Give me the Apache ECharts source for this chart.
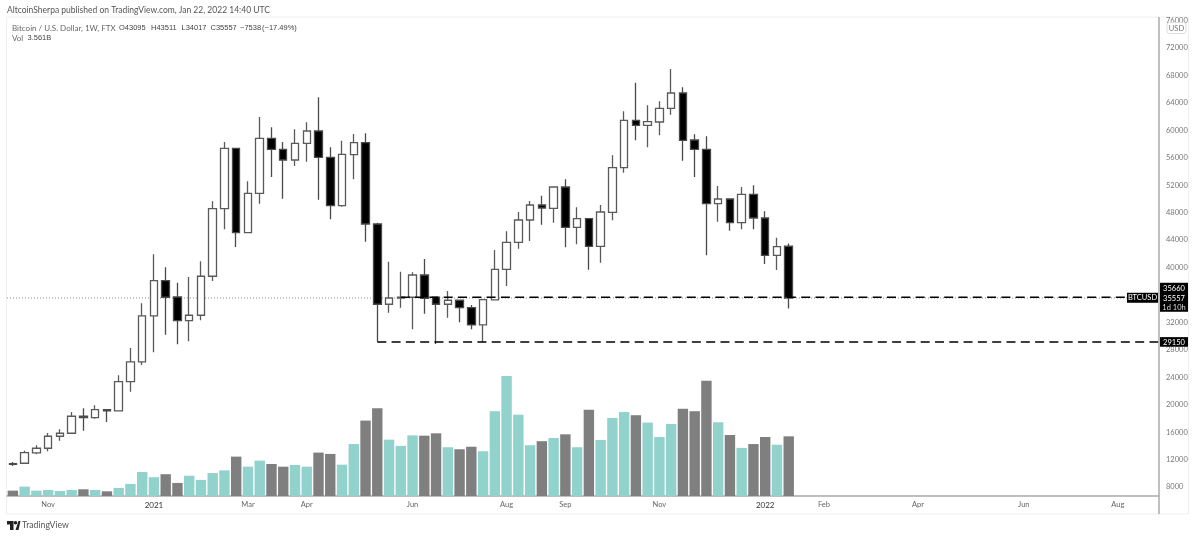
<!DOCTYPE html>
<html><head><meta charset="utf-8">
<style>html,body{margin:0;padding:0;background:#fff}#c{width:1200px;height:537px}</style>
<script src="https://cdn.jsdelivr.net/npm/echarts@6/dist/echarts.min.js"></script>
</head><body><div id="c"></div>
<script>
const candleOpen=[11418,11462,12963,13648,15397,15835,18313,18109,19275,19085,23357,26228,32934,38079,35700,32248,33036,38721,48575,57379,45076,50820,58837,57233,55674,58108,59901,56067,49012,56446,58196,46344,34639,35557,35660,38910,35660,34639,35222,34144,31622,35266,39741,43677,46928,49114,48633,51738,45863,47117,43094,48050,54551,61461,60732,61213,63210,65440,58589,57233,49304,49989,46534,50674,47219,41782,43095];
const candleClose=[11301,13007,13648,15397,15835,18313,18109,19275,19085,23357,26228,32934,38079,35660,32248,33036,38721,48575,57379,45076,50820,58837,57233,55674,58108,59901,56067,49012,56505,58196,46344,34639,35557,35660,38910,35514,34639,35222,34144,31622,35310,39741,43677,46928,49114,48677,51738,45863,47117,43094,48094,54551,61461,60732,61257,63210,65440,58545,57233,49304,49989,46534,50674,47219,41782,43035,35557];
const candleLow=[11068,11403,12774,13211,14756,15800,16214,17963,17482,19040,21899,25791,27642,30208,28808,29246,32307,38036,45572,42992,44990,49304,53196,50032,54799,55426,49887,47030,48866,52860,43764,29187,33415,34144,30995,33269,28852,32686,32015,30995,29187,35222,37307,42744,43866,46242,46534,42948,43385,39683,40703,46884,53822,58545,57525,59274,62277,55572,53196,41782,46680,45368,45572,45572,40514,39639,34017];
const candleHigh=[11651,13298,14086,15879,16418,18940,19479,19916,19377,24289,28269,34785,41928,40033,37788,38619,40907,49653,58298,57420,52569,61942,60440,58298,60149,61169,64814,57525,58487,59464,59566,46534,40849,39391,39304,41243,35700,36578,35260,34537,35360,42554,45280,48094,49697,50470,51780,52860,48779,47140,49114,56359,62773,66942,63647,64230,68939,66271,59420,59128,51884,50060,51738,51986,48196,44347,43511];
const volumeB=[.32,.56,.32,.36,.30,.36,.40,.36,.28,.48,.72,1.43,1.12,1.30,.78,1.21,.96,1.37,1.53,2.35,1.75,2.11,1.91,1.75,1.85,1.75,2.59,2.51,1.87,3.10,4.50,5.24,3.36,2.99,3.62,3.60,3.74,2.91,2.79,2.94,2.67,5.06,7.16,4.85,3.03,3.27,3.46,3.68,2.91,5.15,3.34,4.66,5.01,4.82,4.38,3.52,4.30,5.21,5.06,6.88,4.40,3.64,2.87,3.10,3.52,3.06,3.561];
const tickIndex=[3,12,20,25,34,42,47,55,64,69,77,86,94];
const tickLabels=['Nov','2021','Mar','Apr','Jun','Aug','Sep','Nov','2022','Feb','Apr','Jun','Aug'];
const slotCount=98;
const levelStart=[33,31];
const levelEnd=[95,-1];
const levelPrice=[35660,29150];
const lastClose=35557;
const badgePrice=[35660,29150];

const categories=new Array(slotCount).fill('');
tickIndex.forEach((t,i)=>{categories[t]=tickLabels[i];});
const candles=candleOpen.map((o,i)=>[o,candleClose[i],candleLow[i],candleHigh[i]]);
const font='Lato,"Liberation Sans",sans-serif';
const numFont='"Liberation Sans",sans-serif';
const teal='#92d2cc',grey='#7f7f7f';
const volData=volumeB.map((v,i)=>({value:v,itemStyle:{color:candleClose[i]>=candleOpen[i]?teal:grey}}));
const L=7,R=1159;
function txt(x,y,t,fs,col,extra){return {type:'text',x:x,y:y,z:50,style:Object.assign({text:t,fontSize:fs,fill:col,fontFamily:font,verticalAlign:'middle'},extra||{})};}
const nf={fontFamily:numFont};
const chart=echarts.init(document.getElementById('c'),null,{renderer:'canvas'});
chart.setOption({
 animation:false,backgroundColor:'#fff',
 grid:[
  {left:L,right:1200-R,top:20.56,height:466.44,containLabel:false},
  {left:L,right:1200-R,top:376,height:120,containLabel:false}
 ],
 xAxis:[
  {type:'category',gridIndex:0,data:categories,show:false,boundaryGap:true},
  {type:'category',gridIndex:1,data:categories,boundaryGap:true,
   axisLine:{lineStyle:{color:'#aaaaaa',width:1.5}},axisTick:{show:false},
   axisLabel:{interval:0,margin:5,fontSize:7.5,color:'#666',fontFamily:font,
     formatter:v=>/^20/.test(v)?'{y|'+v+'}':v,rich:{y:{fontSize:8,color:'#333',fontFamily:font}}},
   splitLine:{show:false}}
 ],
 yAxis:[
  {type:'value',gridIndex:0,position:'right',min:8000,max:76000,interval:4000,
   axisLine:{show:false},axisTick:{show:false},splitLine:{show:false},
   axisLabel:{fontSize:7.5,color:'#777',margin:7,fontFamily:font,formatter:v=>String(v)}},
  {type:'value',gridIndex:1,min:0,max:7.16,show:false,splitLine:{show:false}}
 ],
 series:[
  {type:'bar',name:'Vol',xAxisIndex:1,yAxisIndex:1,data:volData,barWidth:10.4,z:1},
  {type:'custom',name:'last',xAxisIndex:0,yAxisIndex:0,z:2,data:[[0,lastClose]],encode:{x:0,y:1},
   renderItem:(p,api)=>{const c=api.coord([0,api.value(1)]);return {type:'line',shape:{x1:p.coordSys.x,y1:c[1],x2:p.coordSys.x+p.coordSys.width,y2:c[1]},style:{stroke:'#8a8a8a',lineWidth:1,lineDash:[1,2]}};}},
  {type:'candlestick',name:'BTCUSD',xAxisIndex:0,yAxisIndex:0,data:candles,barWidth:8,z:3,
   itemStyle:{color:'#ffffff',color0:'#000000',borderColor:'#5a5a5a',borderColor0:'#4a4a4a',borderWidth:1.3}},
  {type:'custom',name:'levels',xAxisIndex:0,yAxisIndex:0,z:4,
   data:levelPrice.map((v,i)=>[levelStart[i],v,levelEnd[i]]),encode:{x:0,y:1},
   renderItem:(p,api)=>{const a=api.coord([api.value(0),api.value(1)]);const e=api.value(2);
     const x2=e<0?p.coordSys.x+p.coordSys.width:api.coord([e,api.value(1)])[0];
     return {type:'line',shape:{x1:a[0],y1:a[1],x2:x2,y2:a[1]},style:{stroke:'#000',lineWidth:1.5,lineDash:[9,5.3]}};}},
  {type:'custom',name:'badges',xAxisIndex:0,yAxisIndex:0,z:10,
   data:badgePrice.map((v,i)=>[0,v,i]),encode:{x:0,y:1},
   renderItem:(p,api)=>{const y=api.coord([0,api.value(1)])[1];const right=p.coordSys.x+p.coordSys.width;const big=api.value(2)===0;
     const ch=[{type:'rect',shape:big?{x:right+1,y:y-14.5,width:28,height:29}:{x:right+1,y:y-4.8,width:28,height:9.6},style:{fill:'#000'}},
       {type:'text',x:right+15,y:big?y-8.5:y+0.2,style:{text:String(api.value(1)),fontSize:7.5,fill:'#fff',fontFamily:font,align:'center',verticalAlign:'middle'}}];
     if(big){ch.push({type:'text',x:right+15,y:y+1,style:{text:String(lastClose),fontSize:7.5,fill:'#fff',fontFamily:font,align:'center',verticalAlign:'middle'}});
       ch.push({type:'text',x:right+15,y:y+10,style:{text:'1d 10h',fontSize:7.5,fill:'#ddd',fontFamily:font,align:'center',verticalAlign:'middle'}});
       ch.push({type:'rect',shape:{x:right-32,y:y-4.5,width:31,height:10},style:{fill:'#000'}});
       ch.push({type:'text',x:right-16.5,y:y+0.7,style:{text:'BTCUSD',fontSize:7.5,fill:'#fff',fontFamily:font,align:'center',verticalAlign:'middle'}});}
     return {type:'group',children:ch};}}
 ],
 graphic:[
  {type:'rect',z:-1,shape:{x:6.5,y:17,width:1182,height:497},style:{fill:'none',stroke:'#eceef1',lineWidth:1}},
  {type:'line',z:5,shape:{x1:R,y1:17,x2:R,y2:514},style:{stroke:'#aaaaaa',lineWidth:1.5}},
  {type:'rect',z:40,shape:{x:1167,y:22.5,width:19,height:11,r:2.5},style:{fill:'#fff',stroke:'#ddd',lineWidth:1}},
  txt(1176.5,28.2,'USD',7.5,'#777',{align:'center'}),
  txt(7,10,'AltcoinSherpa published on TradingView.com, Jan 22, 2022 14:40 UTC',8.5,'#555'),
  txt(12,28,'Bitcoin / U.S. Dollar, 1W, FTX',8,'#666'),
  txt(119,28,'O43095',7.5,'#444',nf),
  txt(151,28,'H43511',7.5,'#444',nf),
  txt(181.5,28,'L34017',7.5,'#444',nf),
  txt(210.5,28,'C35557',7.5,'#444',nf),
  txt(240,28,'−7538',7.5,'#444',nf),
  txt(262,28,'(−17.49%)',7.5,'#444',nf),
  txt(12,38,'Vol',8,'#666'),
  txt(27.5,38,'3.561B',7.5,'#444',nf),
  {type:'polygon',z:50,shape:{points:[[7,521],[13.5,521],[13.5,530],[10,530],[10,524.5],[7,524.5]]},style:{fill:'#222'}},
  {type:'circle',z:50,shape:{cx:15.5,cy:522.8,r:1.8},style:{fill:'#222'}},
  {type:'polygon',z:50,shape:{points:[[15.5,530],[18.5,521],[20.5,521],[18.5,530]]},style:{fill:'#222'}},
  txt(22,525.5,'TradingView',8.7,'#555')
 ]
});
</script></body></html>
